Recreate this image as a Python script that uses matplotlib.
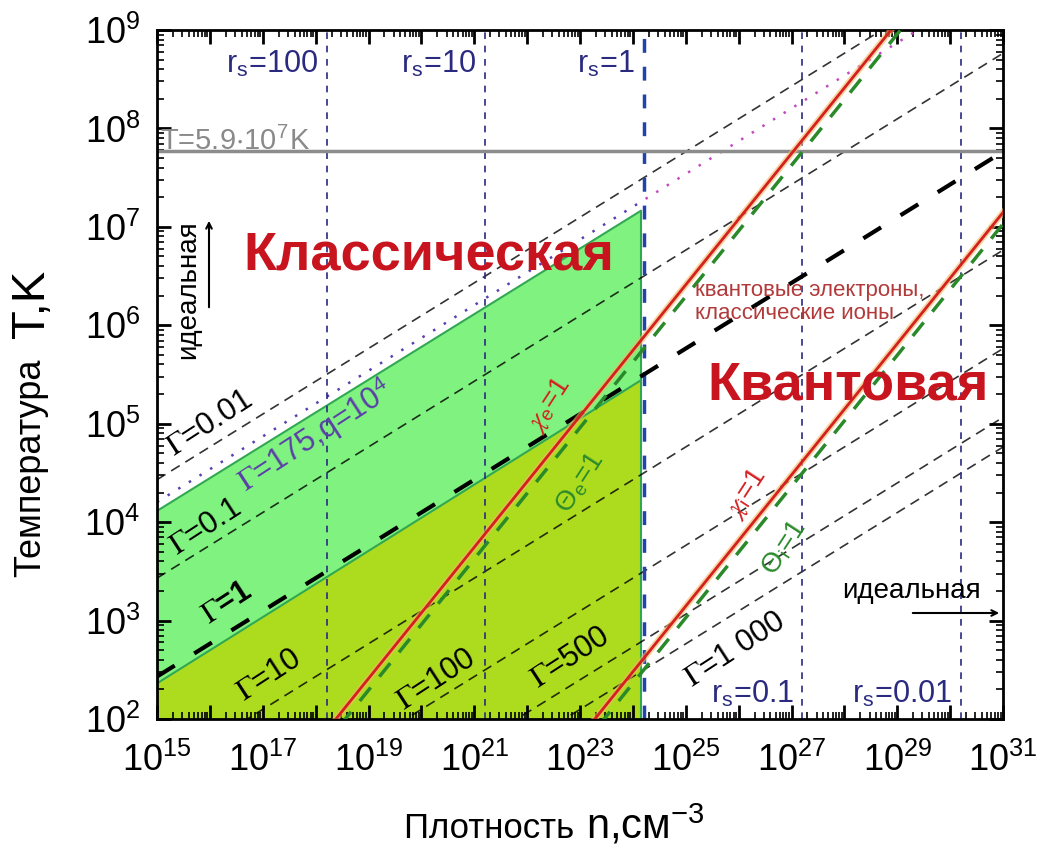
import math
import matplotlib.pyplot as plt
from matplotlib.ticker import LogLocator, FuncFormatter, NullFormatter
from matplotlib.patches import Rectangle

plt.rcParams['font.family'] = ['Liberation Sans', 'DejaVu Sans']
plt.rcParams['mathtext.fontset'] = 'stix'

# axis ranges: density n (cm^-3) and temperature T (K)
n_range = [1e15, 1e31]
T_range = [1e2, 1e9]

# coupling parameter lines Gamma = const, T at n = 1e15 and n = 1e31
gamma_values = [0.01, 0.1, 1, 10, 100, 500, 1000]
gamma_T_lo = [2.7e4, 2.7e3, 2.7e2, 27, 2.7, 0.54, 0.27]
gamma_T_hi = [5.8e9, 5.8e8, 5.8e7, 5.8e6, 5.8e5, 1.16e5, 5.8e4]

# degeneracy lines, T at n = 1e15 and n = 1e31
chi_e_T = [0.555, 2.58e10]
theta_e_T = [0.423, 1.96e10]
chi_i_T = [3.02e-4, 1.40e7]
theta_i_T = [2.30e-4, 1.07e7]

# dusty plasma line Gamma = 175, q = 1e4
dust_T = [1.6e4, 3.45e9]

# Wigner-Seitz radius r_s lines
rs_values = ['100', '10', '1', '0.1', '0.01']
rs_n = [1.61e18, 1.61e21, 1.61e24, 1.61e27, 1.61e30]

# shaded classical regions
region_n = [1e15, 1.4e24]
classic_top_T = [1.3e4, 1.45e7]
strong_top_T = [2.3e2, 2.75e5]

T_line = 5.9e7

W, H = 1040, 846
fig = plt.figure(figsize=(W / 100, H / 100), dpi=100)
ax = fig.add_axes([157 / W, 1 - 719 / H, 846 / W, 689 / H])
ax.set_xscale('log')
ax.set_yscale('log')
ax.set_xlim(n_range)
ax.set_ylim(T_range)


def fpx(x, y):
    return x / W, 1 - y / H


# regions
ax.fill_between(region_n, strong_top_T, classic_top_T, color='#80f280', lw=0, zorder=1)
ax.fill_between(region_n, [T_range[0]] * 2, strong_top_T, color='#addc1e', lw=0, zorder=1)
ax.plot(region_n, classic_top_T, color='#2fa84f', lw=1.5, zorder=1.5)
ax.plot(region_n, strong_top_T, color='#2fa84f', lw=1.5, zorder=1.5)
ax.plot([region_n[1]] * 2, [T_range[0], classic_top_T[1]], color='#2fa84f', lw=1.5, zorder=1.5)

# Gamma lines
for g, lo, hi in zip(gamma_values, gamma_T_lo, gamma_T_hi):
    if g == 1:
        ax.plot(n_range, [lo, hi], color='black', lw=3, dashes=(5, 5.5), zorder=2.5)
    else:
        ax.plot(n_range, [lo, hi], color='black', alpha=0.8, lw=1.2, dashes=(6, 4), zorder=2)

# dusty plasma line, purple on the classical side, magenta beyond r_s=1
d1, = ax.plot(n_range, dust_T, color='#5a3fb0', lw=1.8, dashes=(1, 4), zorder=2)
d1.set_clip_path(Rectangle((n_range[0], T_range[0]), rs_n[2] - n_range[0], T_range[1],
                           transform=ax.transData))
d2, = ax.plot(n_range, dust_T, color='#c04cc0', lw=1.8, dashes=(1, 4), zorder=2)
d2.set_clip_path(Rectangle((rs_n[2], T_range[0]), n_range[1], T_range[1],
                           transform=ax.transData))

# r_s verticals
for rs, n in zip(rs_values, rs_n):
    if rs == '1':
        ax.axvline(n, color='#2244aa', lw=2.5, dashes=(4, 4), zorder=2.2)
    else:
        ax.axvline(n, color='#2a2a80', lw=1.2, dashes=(4, 4), zorder=2.2)

# T = 5.9e7 K
ax.axhline(T_line, color='#8c8c8c', lw=2.5, zorder=2.3)

# degeneracy lines
for T in (chi_e_T, chi_i_T):
    ax.plot(n_range, T, color='#f2b860', lw=4.5, alpha=0.6, zorder=3)
    ax.plot(n_range, T, color='#d42020', lw=2, zorder=3.1)
for T in (theta_e_T, theta_i_T):
    ax.plot(n_range, T, color='#2a8a2a', lw=2.5, dashes=(5, 4), zorder=3.2)


def odd_decades(v, pos):
    e = round(math.log10(v))
    return r'$\mathdefault{10^{%d}}$' % e if e % 2 == 1 else ''


# ticks
ax.xaxis.set_major_locator(LogLocator(base=10, numticks=30))
ax.xaxis.set_minor_locator(LogLocator(base=10, subs=range(2, 10), numticks=300))
ax.yaxis.set_major_locator(LogLocator(base=10, numticks=30))
ax.yaxis.set_minor_locator(LogLocator(base=10, subs=range(2, 10), numticks=300))
ax.xaxis.set_major_formatter(FuncFormatter(odd_decades))
ax.xaxis.set_minor_formatter(NullFormatter())
ax.yaxis.set_minor_formatter(NullFormatter())
ax.tick_params(which='both', direction='in', top=True, right=True)
ax.tick_params(which='major', length=10, width=2, labelsize=26)
ax.tick_params(axis='x', which='major', pad=17)
ax.tick_params(axis='y', which='major', pad=12)
ax.tick_params(which='minor', length=5, width=1.2)
for s in ax.spines.values():
    s.set_linewidth(2)

# line labels
gtxt = dict(ha='center', va='center', rotation=33, rotation_mode='anchor', zorder=5)
ax.text(10**16.0, 10**5.0, r'$\Gamma$=0.01', fontsize=22, **gtxt)
ax.text(10**17.99, 10**4.88, r'$\Gamma$=175,q=10$^\mathregular{4}$', fontsize=22,
        color='#5a3fa8', **gtxt)
ax.text(10**15.91, 10**3.95, r'$\Gamma$=0.1', fontsize=22, **gtxt)
ax.text(10**16.32, 10**3.18, r'$\Gamma$=1', fontsize=22, fontweight='bold', **gtxt)
ax.text(10**17.12, 10**2.445, r'$\Gamma$=10', fontsize=22, **gtxt)
ax.text(10**20.29, 10**2.40, r'$\Gamma$=100', fontsize=22, **gtxt)
ax.text(10**22.81, 10**2.62, r'$\Gamma$=500', fontsize=22, **gtxt)
ax.text(10**25.93, 10**2.70, r'$\Gamma$=1 000', fontsize=22, **gtxt)

dtxt = dict(ha='center', va='center', rotation=57, rotation_mode='anchor', zorder=5)
ax.text(10**22.42, 10**5.19, r'$\chi_\mathregular{e}$=1', fontsize=20, color='#d42020', **dtxt)
ax.text(10**23.0, 10**4.40, r'Θ$_\mathregular{e}$=1', fontsize=20, color='#2a8a2a', **dtxt)
ax.text(10**26.15, 10**4.29, r'$\chi_\mathregular{i}$=1', fontsize=20, color='#d42020', **dtxt)
ax.text(10**26.87, 10**3.74, r'Θ$_\mathregular{i}$=1', fontsize=20, color='#2a8a2a', **dtxt)

# r_s labels
for rs, n in zip(rs_values, rs_n):
    T = 10**8.57 if rs in ('100', '10', '1') else 10**2.16
    ax.annotate(r'r$_\mathregular{s}$=' + rs, xy=(n, T), xytext=(-6, 0),
                textcoords='offset points', ha='right', va='baseline',
                fontsize=22, color='#2a2a80', zorder=5)

ax.text(*fpx(160, 150), r'T=5.9$\cdot$10$^\mathregular{7}$K', transform=fig.transFigure,
        fontsize=21, color='#8a8a8a', va='baseline', zorder=5)

# region names
ax.text(*fpx(429, 255), 'Классическая', transform=fig.transFigure, ha='center',
        va='center', fontsize=39, fontweight='bold', color='#c8141e', zorder=5)
ax.text(*fpx(848, 385), 'Квантовая', transform=fig.transFigure, ha='center',
        va='center', fontsize=39, fontweight='bold', color='#c8141e', zorder=5)
ax.text(*fpx(695, 302), 'квантовые электроны,\nклассические ионы',
        transform=fig.transFigure, ha='left', va='center', fontsize=16,
        color='#b23a3a', linespacing=1.15, zorder=5)

# ideal plasma directions
fig.text(*fpx(188, 290), 'идеальная', rotation=90, ha='center', va='center', fontsize=20)
ax.annotate('', xy=fpx(209, 218), xytext=fpx(209, 310), xycoords='figure fraction',
            textcoords='figure fraction', arrowprops=dict(arrowstyle='->', lw=1.5))
fig.text(*fpx(911, 591), 'идеальная', ha='center', va='center', fontsize=20)
ax.annotate('', xy=fpx(1002, 613), xytext=fpx(910, 613), xycoords='figure fraction',
            textcoords='figure fraction', arrowprops=dict(arrowstyle='->', lw=1.5))

# axis titles
fig.text(*fpx(40, 577), 'Температура', rotation=90, rotation_mode='anchor',
         ha='left', va='baseline', fontsize=26)
fig.text(*fpx(44, 338), 'T,K', rotation=90, rotation_mode='anchor',
         ha='left', va='baseline', fontsize=34)
fig.text(*fpx(584, 838), 'Плотность ', ha='right', va='baseline', fontsize=25)
fig.text(*fpx(586, 838), r'n,см$^\mathregular{-3}$', ha='left', va='baseline', fontsize=30)

fig.savefig('out.png', dpi=100)
